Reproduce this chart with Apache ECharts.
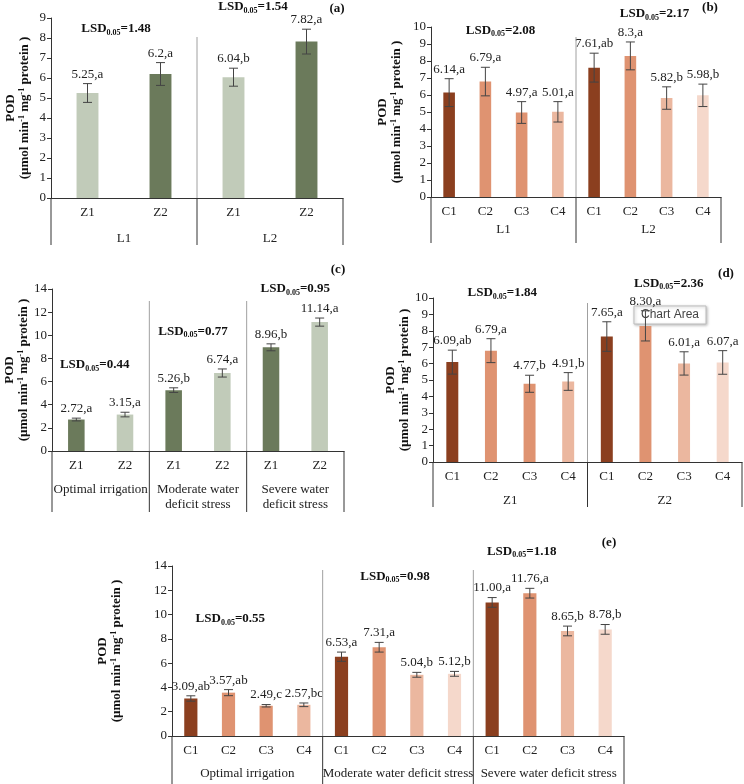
<!DOCTYPE html>
<html>
<head>
<meta charset="utf-8">
<script src="https://cdn.jsdelivr.net/npm/echarts@6/dist/echarts.min.js"></script>
<style>
  html, body { margin: 0; background: #fff; }
  #main { width: 744px; height: 784px; }
</style>
</head>
<body>
<div id="main"></div>
<script>
var SERIF = '"Liberation Serif", "Times New Roman", serif';

// (a) zinc within L1 / L2
var aCategories = ['Z1', 'Z2', 'Z1', 'Z2'];
var aGroups = ['L1', 'L2'];
var aValues = [5.25, 6.2, 6.04, 7.82];
var aErrors = [0.47, 0.57, 0.45, 0.62];
var aLetters = ['a', 'a', 'b', 'a'];
var aLsd = [1.48, 1.54];
var aTicks = [0, 9, 1];

// (b) C treatments within L1 / L2
var bCategories = ['C1', 'C2', 'C3', 'C4', 'C1', 'C2', 'C3', 'C4'];
var bGroups = ['L1', 'L2'];
var bValues = [6.14, 6.79, 4.97, 5.01, 7.61, 8.3, 5.82, 5.98];
var bErrors = [0.82, 0.84, 0.64, 0.6, 0.85, 0.82, 0.66, 0.66];
var bLetters = ['a', 'a', 'a', 'a', 'ab', 'a', 'b', 'b'];
var bLsd = [2.08, 2.17];
var bTicks = [0, 10, 1];

// (c) zinc within irrigation levels
var cCategories = ['Z1', 'Z2', 'Z1', 'Z2', 'Z1', 'Z2'];
var cGroups = ['Optimal irrigation', 'Moderate water\ndeficit stress', 'Severe water\ndeficit stress'];
var cValues = [2.72, 3.15, 5.26, 6.74, 8.96, 11.14];
var cErrors = [0.12, 0.2, 0.2, 0.35, 0.3, 0.35];
var cLetters = ['a', 'a', 'b', 'a', 'b', 'a'];
var cLsd = [0.44, 0.77, 0.95];
var cTicks = [0, 14, 2];

// (d) C treatments within Z1 / Z2
var dCategories = ['C1', 'C2', 'C3', 'C4', 'C1', 'C2', 'C3', 'C4'];
var dGroups = ['Z1', 'Z2'];
var dValues = [6.09, 6.79, 4.77, 4.91, 7.65, 8.30, 6.01, 6.07];
var dErrors = [0.73, 0.73, 0.52, 0.54, 0.9, 0.92, 0.71, 0.72];
var dLetters = ['ab', 'a', 'b', 'b', 'a', 'a', 'a', 'a'];
var dLsd = [1.84, 2.36];
var dTicks = [0, 10, 1];

// (e) C treatments within irrigation levels
var eCategories = ['C1', 'C2', 'C3', 'C4', 'C1', 'C2', 'C3', 'C4', 'C1', 'C2', 'C3', 'C4'];
var eGroups = ['Optimal irrigation', 'Moderate water deficit stress', 'Severe water deficit stress'];
var eValues = [3.09, 3.57, 2.49, 2.57, 6.53, 7.31, 5.04, 5.12, 11.00, 11.76, 8.65, 8.78];
var eErrors = [0.22, 0.25, 0.1, 0.15, 0.38, 0.4, 0.2, 0.2, 0.4, 0.4, 0.4, 0.4];
var eLetters = ['ab', 'ab', 'c', 'bc', 'a', 'a', 'b', 'b', 'a', 'a', 'b', 'b'];
var eLsd = [0.55, 0.98, 1.18];
var eTicks = [0, 14, 2];

// bar shades
var shade = {
    dg: '#6b7a5b', lg: '#c1cbb9',
    c1: '#8b3f1f', c2: '#df9371', c3: '#ebb79f', c4: '#f5d8cb'
};
var aShades = ['lg', 'dg', 'lg', 'dg'];
var bShades = ['c1', 'c2', 'c2', 'c3', 'c1', 'c2', 'c3', 'c4'];
var cShades = ['dg', 'lg', 'dg', 'lg', 'dg', 'lg'];
var dShades = ['c1', 'c2', 'c2', 'c3', 'c1', 'c2', 'c3', 'c4'];
var eShades = ['c1', 'c2', 'c2', 'c3', 'c1', 'c2', 'c3', 'c4', 'c1', 'c2', 'c3', 'c4'];

var panels = [
    { cats: aCategories, groups: aGroups, values: aValues, errors: aErrors, letters: aLetters, lsd: aLsd, ticks: aTicks, shades: aShades, fixed: false,
      layout: { grid: [51, 18, 292, 180], nameGap: 19, barWidth: '30%', sepTop: 19, drop: 47, groupY: 33, lsdY: [8.45, 9.55], lsdDx: [-8, -17] } },
    { cats: bCategories, groups: bGroups, values: bValues, errors: bErrors, letters: bLetters, lsd: bLsd, ticks: bTicks, shades: bShades, fixed: false,
      layout: { grid: [431, 27, 290, 170], nameGap: 27, barWidth: '32%', sepTop: 10, drop: 46, groupY: 25, lsdY: [9.8, 10.76], lsdDx: [-3, 6] } },
    { cats: cCategories, groups: cGroups, values: cValues, errors: cErrors, letters: cLetters, lsd: cLsd, ticks: cTicks, shades: cShades, fixed: true,
      layout: { grid: [52, 289, 292, 162], nameGap: 20, barWidth: '34%', sepTop: 12, drop: 61, groupY: 31, lsdY: [7.43, 10.3, 14.0], lsdDx: [-6, -5, 0] } },
    { cats: dCategories, groups: dGroups, values: dValues, errors: dErrors, letters: dLetters, lsd: dLsd, ticks: dTicks, shades: dShades, fixed: true,
      layout: { grid: [433, 298, 309, 164], nameGap: 16, barWidth: '31%', sepTop: 5, drop: 45, groupY: 31, lsdY: [10.3, 10.9], lsdDx: [-8, 4] } },
    { cats: eCategories, groups: eGroups, values: eValues, errors: eErrors, letters: eLetters, lsd: eLsd, ticks: eTicks, shades: eShades, fixed: true,
      layout: { grid: [172, 566, 452, 170], nameGap: 48, barWidth: '35%', sepTop: 4, drop: 48, groupY: 30, lsdY: [9.64, 13.1, 15.2], lsdDx: [-17, -3, -27] } }
];

function seg(x1, y1, x2, y2, color) {
    return { type: 'line', shape: { x1: x1, y1: y1, x2: x2, y2: y2 }, style: { stroke: color, lineWidth: 1 } };
}

function errorRender(p) {
    return function (params, api) {
        var i = params.dataIndex;
        var x = api.value(0), v = api.value(1), e = api.value(2);
        var hi = api.coord([x, v + e]);
        var lo = api.coord([x, v - e]);
        var cap = 4.5;
        var txt = (p.fixed ? v.toFixed(2) : String(v)) + ',' + p.letters[i];
        return {
            type: 'group',
            children: [
                seg(hi[0], hi[1], lo[0], lo[1], '#444'),
                seg(hi[0] - cap, hi[1], hi[0] + cap, hi[1], '#444'),
                seg(lo[0] - cap, lo[1], lo[0] + cap, lo[1], '#444'),
                { type: 'text', x: hi[0], y: hi[1] - 3,
                  style: { text: txt, align: 'center', verticalAlign: 'bottom', fontFamily: SERIF, fontSize: 13, fill: '#222' } }
            ]
        };
    };
}

function groupRender(p) {
    var L = p.layout;
    return function (params, api) {
        var j = params.dataIndex;
        var s = api.value(0), e = api.value(1);
        var band = api.size([1, 0])[0];
        var x0 = api.coord([s, 0])[0] - band / 2;
        var x1 = api.coord([e, 0])[0] + band / 2;
        var yAx = api.coord([s, 0])[1];
        var yTop = api.coord([s, p.ticks[1]])[1] + L.sepTop;
        var yBot = yAx + L.drop;
        var kids = [];
        if (j > 0) kids.push(seg(x0, yTop, x0, yAx, '#a0a0a0'));
        kids.push(seg(x0, yAx, x0, yBot, '#333'));
        if (j === p.groups.length - 1) kids.push(seg(x1, yAx, x1, yBot, '#333'));
        kids.push({ type: 'text', x: (x0 + x1) / 2, y: yAx + L.groupY,
            style: { text: p.groups[j], align: 'center', verticalAlign: 'top', fontFamily: SERIF, fontSize: 13, lineHeight: 15, fill: '#222' } });
        kids.push({ type: 'text', x: (x0 + x1) / 2 + L.lsdDx[j], y: api.coord([s, L.lsdY[j]])[1],
            style: {
                text: '{b|LSD}{s|0.05}{b|=' + p.lsd[j].toFixed(2) + '}',
                align: 'center', verticalAlign: 'middle',
                rich: {
                    b: { fontFamily: SERIF, fontWeight: 'bold', fontSize: 13, lineHeight: 15, fill: '#111' },
                    s: { fontFamily: SERIF, fontWeight: 'bold', fontSize: 8, lineHeight: 8, verticalAlign: 'bottom', fill: '#111' }
                }
            } });
        return { type: 'group', children: kids };
    };
}

var option = { animation: false, grid: [], xAxis: [], yAxis: [], series: [], graphic: [] };

panels.forEach(function (p, k) {
    var L = p.layout;
    var per = p.cats.length / p.groups.length;
    option.grid.push({ left: L.grid[0], top: L.grid[1], width: L.grid[2], height: L.grid[3], outerBoundsMode: 'none', containLabel: false });
    option.xAxis.push({
        type: 'category', gridIndex: k,
        data: p.cats.map(function (c, i) { return i + '|' + c; }),
        axisLine: { lineStyle: { color: '#333', width: 1 } },
        axisTick: { show: false },
        splitLine: { show: false },
        axisLabel: { interval: 0, margin: 8, fontFamily: SERIF, fontSize: 13, color: '#222',
            formatter: function (v) { return v.split('|')[1]; } }
    });
    option.yAxis.push({
        type: 'value', gridIndex: k,
        min: p.ticks[0], max: p.ticks[1], interval: p.ticks[2],
        axisLine: { show: true, lineStyle: { color: '#333', width: 1 } },
        axisTick: { show: true, length: 4, lineStyle: { color: '#333' } },
        splitLine: { show: false },
        axisLabel: { margin: 5, fontFamily: SERIF, fontSize: 13, color: '#222' },
        name: '{b|POD}\n{b|(µmol min}{sup|-1}{b| mg}{sup|-1}{b| protein )}',
        nameLocation: 'middle', nameRotate: 90, nameGap: L.nameGap,
        nameTextStyle: {
            rich: {
                b: { fontFamily: SERIF, fontWeight: 'bold', fontSize: 13, lineHeight: 14, color: '#111' },
                sup: { fontFamily: SERIF, fontWeight: 'bold', fontSize: 8, lineHeight: 8, verticalAlign: 'top', color: '#111' }
            }
        }
    });
    option.series.push({
        type: 'bar', xAxisIndex: k, yAxisIndex: k, barWidth: L.barWidth, silent: true,
        data: p.values.map(function (v, i) { return { value: v, itemStyle: { color: shade[p.shades[i]] } }; })
    });
    option.series.push({
        type: 'custom', xAxisIndex: k, yAxisIndex: k, silent: true, z: 3,
        renderItem: errorRender(p),
        data: p.values.map(function (v, i) { return [i, v, p.errors[i]]; })
    });
    option.series.push({
        type: 'custom', xAxisIndex: k, yAxisIndex: k, silent: true, z: 4,
        renderItem: groupRender(p),
        data: p.groups.map(function (g, j) { return [j * per, (j + 1) * per - 1]; })
    });
});

var tagFont = { fontFamily: SERIF, fontWeight: 'bold', fontSize: 13, fill: '#111', align: 'center', verticalAlign: 'middle' };
[['(a)', 337, 9], ['(b)', 710, 8], ['(c)', 338, 270], ['(d)', 726, 274], ['(e)', 609, 543]].forEach(function (t) {
    option.graphic.push({ type: 'text', x: t[1], y: t[2], style: Object.assign({ text: t[0] }, tagFont) });
});

// Excel hover tooltip left in the figure
option.graphic.push({
    type: 'group', x: 634, y: 306, z: 100,
    children: [
        { type: 'rect', shape: { x: 0, y: 0, width: 72, height: 18 },
          style: { fill: '#ffffff', stroke: '#bdbdbd', lineWidth: 1, shadowBlur: 3, shadowColor: 'rgba(0,0,0,0.25)', shadowOffsetX: 1, shadowOffsetY: 1 } },
        { type: 'text', x: 36, y: 9,
          style: { text: 'Chart Area', align: 'center', verticalAlign: 'middle', fontFamily: '"Liberation Sans", Arial, sans-serif', fontSize: 12, fill: '#444' } }
    ]
});

var myChart = echarts.init(document.getElementById('main'));
myChart.setOption(option);
</script>
</body>
</html>
